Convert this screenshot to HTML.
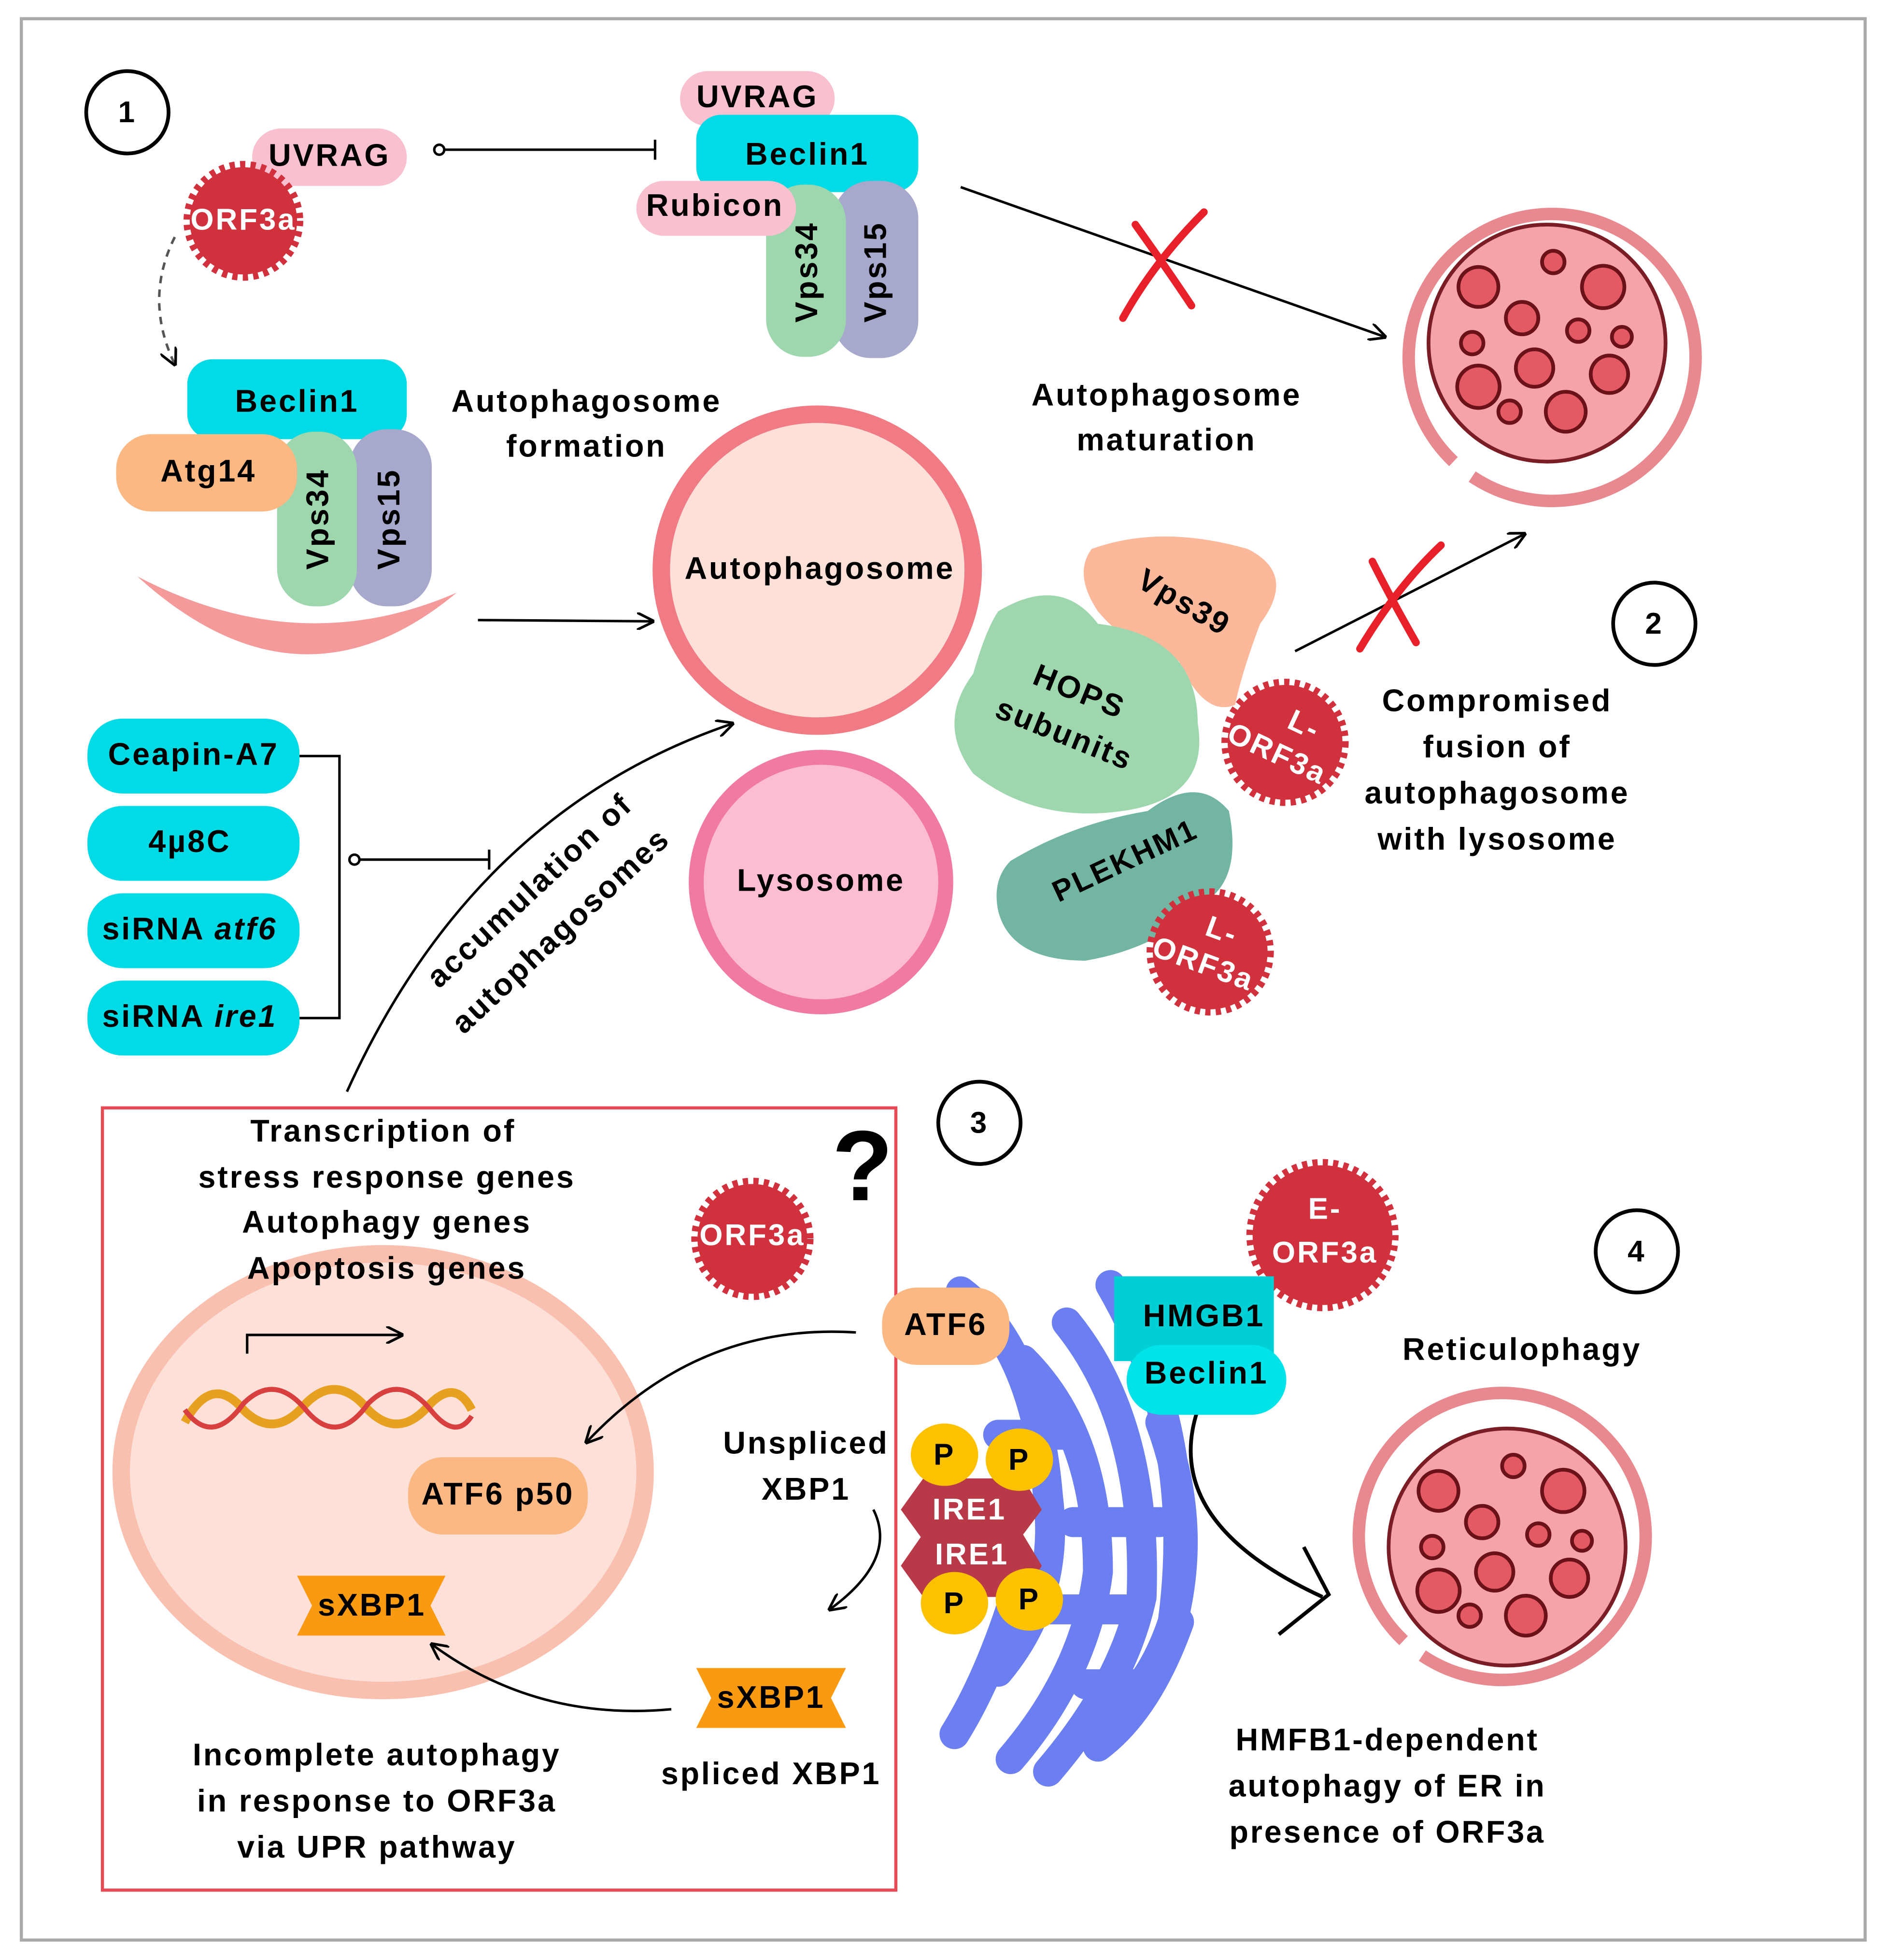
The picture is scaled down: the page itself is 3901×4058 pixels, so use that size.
<!DOCTYPE html>
<html><head><meta charset="utf-8"><style>
html,body{margin:0;padding:0;background:#fff;}
svg{display:block;}
text{font-family:"Liberation Sans",sans-serif;font-weight:bold;letter-spacing:1.5px;}
</style></head><body>
<svg width="3901" height="4058" viewBox="0 0 1510 1571" xmlns="http://www.w3.org/2000/svg">
<defs>
<marker id="ar" viewBox="0 0 10 10" refX="9" refY="5" markerWidth="7" markerHeight="7" orient="auto"><path d="M0,0 L10,5 L0,10" fill="none" stroke="#000" stroke-width="1.5"/></marker>
<g id="lys">
<circle r="95" fill="#f4a3a8" stroke="#7a1d25" stroke-width="3"/>
<g fill="#e45a64" stroke="#6b1219" stroke-width="3">
<circle cx="-55" cy="-45" r="16"/><circle cx="5" cy="-65" r="9"/><circle cx="45" cy="-45" r="17"/>
<circle cx="-60" cy="0" r="9"/><circle cx="-20" cy="-20" r="13"/><circle cx="25" cy="-10" r="9"/><circle cx="60" cy="-5" r="8"/>
<circle cx="-55" cy="35" r="17"/><circle cx="-10" cy="20" r="15"/><circle cx="50" cy="25" r="15"/>
<circle cx="-30" cy="55" r="9"/><circle cx="15" cy="55" r="16"/>
</g></g>
</defs>
<rect width="1510" height="1571" fill="#fff"/>
<rect x="17" y="15" width="1478" height="1540" fill="none" stroke="#aaa" stroke-width="2.5"/>

<g fill="#fff" stroke="#000" stroke-width="3">
<circle cx="102" cy="90" r="33"/><circle cx="1326" cy="500" r="33"/><circle cx="785" cy="900" r="33"/><circle cx="1312" cy="1003" r="33"/></g>
<g font-size="24" text-anchor="middle"><text x="102" y="98">1</text><text x="1326" y="508">2</text><text x="785" y="908">3</text><text x="1312" y="1011">4</text></g>

<rect x="202" y="103" width="124" height="46" rx="23" fill="#f9c0cf"/>
<text x="264" y="133" font-size="25" text-anchor="middle">UVRAG</text>
<line x1="352" y1="120" x2="525" y2="120" stroke="#000" stroke-width="2"/><circle cx="352" cy="120" r="4" fill="#fff" stroke="#000" stroke-width="2"/><line x1="525" y1="112" x2="525" y2="128" stroke="#000" stroke-width="2"/>
<path d="M140,190 Q115,240 140,292" fill="none" stroke="#555" stroke-width="2" stroke-dasharray="6,5" marker-end="url(#ar)"/>

<rect x="545" y="57" width="124" height="44" rx="22" fill="#f9c0cf"/>
<text x="607" y="86" font-size="25" text-anchor="middle">UVRAG</text>
<rect x="558" y="92" width="178" height="62" rx="20" fill="#00dbe5"/>
<text x="647" y="132" font-size="25" text-anchor="middle">Beclin1</text>
<rect x="668" y="145" width="68" height="142" rx="30" fill="#a6a8cc"/>
<rect x="614" y="148" width="64" height="138" rx="30" fill="#9ed6ae"/>
<rect x="510" y="145" width="128" height="44" rx="22" fill="#f9c0cf"/>
<text x="573" y="173" font-size="25" text-anchor="middle">Rubicon</text>
<text transform="translate(655,218) rotate(-90)" font-size="25" text-anchor="middle">Vps34</text>
<text transform="translate(710,218) rotate(-90)" font-size="25" text-anchor="middle">Vps15</text>

<line x1="770" y1="150" x2="1110" y2="270" stroke="#000" stroke-width="2" marker-end="url(#ar)"/>
<path d="M910,180 Q935,215 955,245 M965,170 Q925,210 900,255" stroke="#e8202a" stroke-width="6" fill="none" stroke-linecap="round"/>
<text x="935" y="325" font-size="25" text-anchor="middle">Autophagosome</text>
<text x="935" y="361" font-size="25" text-anchor="middle">maturation</text>

<path d="M1165,370 A115,115 0 1 1 1180,382" fill="none" stroke="#e8888f" stroke-width="10"/>
<g transform="translate(1240,275)"><use href="#lys"/></g>

<rect x="150" y="288" width="176" height="64" rx="20" fill="#00dbe5"/>
<text x="238" y="330" font-size="25" text-anchor="middle">Beclin1</text>
<rect x="280" y="344" width="66" height="142" rx="30" fill="#a6a8cc"/>
<rect x="222" y="346" width="64" height="140" rx="30" fill="#9ed6ae"/>
<rect x="93" y="348" width="145" height="62" rx="28" fill="#fcb882"/>
<text x="167" y="386" font-size="25" text-anchor="middle">Atg14</text>
<text transform="translate(263,416) rotate(-90)" font-size="25" text-anchor="middle">Vps34</text>
<text transform="translate(320,416) rotate(-90)" font-size="25" text-anchor="middle">Vps15</text>
<path d="M110,462 Q240,580 366,475 Q240,530 110,462Z" fill="#f59a9a"/>
<line x1="383" y1="497" x2="523" y2="498" stroke="#000" stroke-width="2" marker-end="url(#ar)"/>
<text x="470" y="330" font-size="25" text-anchor="middle">Autophagosome</text>
<text x="470" y="366" font-size="25" text-anchor="middle">formation</text>

<circle cx="655" cy="457" r="125" fill="#fde0d8" stroke="#f07b84" stroke-width="14"/>
<text x="657" y="464" font-size="25" text-anchor="middle">Autophagosome</text>
<circle cx="658" cy="707" r="100" fill="#fbbcd4" stroke="#f07aa0" stroke-width="12"/>
<text x="658" y="714" font-size="25" text-anchor="middle">Lysosome</text>

<path d="M875,440 Q930,420 1000,440 Q1040,460 1010,500 Q995,540 990,565 Q965,575 945,530 Q905,520 880,490 Q860,460 875,440Z" fill="#fcb89a"/>
<text transform="translate(945,490) rotate(30)" font-size="25" text-anchor="middle">Vps39</text>
<path d="M800,490 Q850,460 880,500 Q960,510 960,580 Q970,640 900,650 Q830,660 780,620 Q750,580 780,540 Q790,505 800,490Z" fill="#9ed6ae"/>
<text transform="translate(862,562) rotate(22)" font-size="25" text-anchor="middle">HOPS</text>
<text transform="translate(850,596) rotate(22)" font-size="25" text-anchor="middle">subunits</text>
<path d="M810,690 Q860,660 920,650 Q960,620 985,650 Q995,700 970,720 Q930,760 870,770 Q810,770 800,730 Q795,705 810,690Z" fill="#72b5a3"/>
<text transform="translate(905,697) rotate(-25)" font-size="24" text-anchor="middle">PLEKHM1</text>
<line x1="1038" y1="522" x2="1222" y2="428" stroke="#000" stroke-width="2" marker-end="url(#ar)"/>
<path d="M1100,450 Q1115,480 1135,515 M1155,437 Q1120,470 1090,520" stroke="#e8202a" stroke-width="6" fill="none" stroke-linecap="round"/>
<g font-size="25" text-anchor="middle"><text x="1200" y="570">Compromised</text><text x="1200" y="607">fusion of</text><text x="1200" y="644">autophagosome</text><text x="1200" y="681">with lysosome</text></g>

<g fill="#d1313d" stroke="#d1313d" stroke-width="10" stroke-dasharray="4,4">
<circle cx="195" cy="177" r="43"/><circle cx="1030" cy="595" r="46"/><circle cx="970" cy="763" r="46"/><circle cx="603" cy="993" r="44"/><circle cx="1060" cy="990" r="56"/></g>
<g fill="#fff" font-size="24" text-anchor="middle">
<text x="195" y="184">ORF3a</text>
<text transform="translate(1028,595) rotate(25)"><tspan x="10" y="-12">L-</tspan><tspan x="0" y="18">ORF3a</tspan></text>
<text transform="translate(968,763) rotate(20)"><tspan x="5" y="-12">L-</tspan><tspan x="0" y="18">ORF3a</tspan></text>
<text x="603" y="998">ORF3a</text>
<text x="1062" y="977">E-</text><text x="1062" y="1012">ORF3a</text></g>

<g fill="#00dbe5"><rect x="70" y="576" width="170" height="60" rx="28"/><rect x="70" y="646" width="170" height="60" rx="28"/><rect x="70" y="716" width="170" height="60" rx="28"/><rect x="70" y="786" width="170" height="60" rx="28"/></g>
<g font-size="25" text-anchor="middle"><text x="155" y="613">Ceapin-A7</text><text x="152" y="683">4µ8C</text><text x="152" y="753">siRNA <tspan font-style="italic">atf6</tspan></text><text x="152" y="823">siRNA <tspan font-style="italic">ire1</tspan></text></g>
<path d="M240,606 H272 V816 H240" fill="none" stroke="#000" stroke-width="2"/>
<line x1="284" y1="689" x2="392" y2="689" stroke="#000" stroke-width="2"/><circle cx="284" cy="689" r="4" fill="#fff" stroke="#000" stroke-width="2"/><line x1="392" y1="681" x2="392" y2="697" stroke="#000" stroke-width="2"/>
<path d="M278,875 Q380,650 587,580" fill="none" stroke="#000" stroke-width="2" marker-end="url(#ar)"/>
<text transform="translate(430,720) rotate(-43)" font-size="25" text-anchor="middle">accumulation of</text>
<text transform="translate(455,752) rotate(-43)" font-size="25" text-anchor="middle">autophagosomes</text>

<rect x="82" y="888" width="636" height="627" fill="none" stroke="#e84a55" stroke-width="2.5"/>
<ellipse cx="307" cy="1180" rx="210" ry="175" fill="#fde0d8" stroke="#f9c0b0" stroke-width="14"/>
<g font-size="25" text-anchor="middle"><text x="307" y="915">Transcription of</text><text x="310" y="952">stress response genes</text><text x="310" y="988">Autophagy genes</text><text x="310" y="1025">Apoptosis genes</text></g>
<text x="692" y="962" font-size="80" text-anchor="middle" font-family="Liberation Sans">?</text>
<path d="M198,1085 V1070 H322" fill="none" stroke="#000" stroke-width="2" marker-end="url(#ar)"/>
<path d="M148,1140 Q170,1100 195,1130 Q220,1155 245,1125 Q270,1100 295,1130 Q320,1155 345,1125 Q365,1105 378,1130" fill="none" stroke="#e8a020" stroke-width="7"/>
<path d="M148,1130 Q170,1160 195,1125 Q220,1100 245,1130 Q270,1160 295,1125 Q320,1100 345,1130 Q365,1155 378,1135" fill="none" stroke="#d84040" stroke-width="4"/>
<rect x="327" y="1168" width="144" height="62" rx="28" fill="#fcb882"/>
<text x="399" y="1206" font-size="25" text-anchor="middle">ATF6 p50</text>
<path d="M238,1263 H357 L345,1287 L357,1311 H238 L250,1287Z" fill="#f99a10"/>
<text x="298" y="1295" font-size="25" text-anchor="middle">sXBP1</text>
<path d="M558,1337 H678 L666,1361 L678,1385 H558 L570,1361Z" fill="#f99a10"/>
<text x="618" y="1369" font-size="25" text-anchor="middle">sXBP1</text>
<path d="M538,1370 Q430,1380 346,1318" fill="none" stroke="#000" stroke-width="2" marker-end="url(#ar)"/>
<path d="M686,1068 Q560,1060 470,1156" fill="none" stroke="#000" stroke-width="2" marker-end="url(#ar)"/>
<path d="M700,1210 Q720,1250 665,1290" fill="none" stroke="#000" stroke-width="2" marker-end="url(#ar)"/>
<g font-size="25" text-anchor="middle"><text x="646" y="1165">Unspliced</text><text x="646" y="1202">XBP1</text><text x="618" y="1430">spliced XBP1</text>
<text x="302" y="1415">Incomplete autophagy</text><text x="302" y="1452">in response to ORF3a</text><text x="302" y="1489">via UPR pathway</text></g>

<g fill="none" stroke="#6b7ff0" stroke-linecap="round" stroke-width="24">
<path d="M770,1035 Q830,1080 840,1200 Q850,1280 800,1340"/>
<path d="M820,1090 Q880,1150 880,1260 Q870,1340 810,1410"/>
<path d="M855,1060 Q920,1140 915,1280 Q900,1350 840,1420"/>
<path d="M890,1030 Q960,1150 940,1300 Q920,1360 880,1380"/>
<path d="M930,1140 Q960,1220 940,1300"/>
<path d="M810,1290 Q790,1350 765,1390"/>
<path d="M945,1300 Q920,1370 880,1400"/>
<path d="M800,1150 H860 M860,1220 H930 M840,1290 H910 M870,1350 H920"/>
</g>
<path d="M960,1130 Q930,1220 1060,1280" fill="none" stroke="#000" stroke-width="3"/>
<path d="M1045,1240 L1065,1278 L1025,1310" fill="none" stroke="#000" stroke-width="3"/>

<rect x="707" y="1032" width="102" height="62" rx="28" fill="#fcb882"/>
<text x="758" y="1070" font-size="25" text-anchor="middle">ATF6</text>
<path d="M740,1185 H820 L835,1210 L820,1230 L835,1255 L820,1280 H740 L722,1255 L738,1232 L722,1210Z" fill="#b83a48"/>
<g fill="#fff" font-size="24" text-anchor="middle"><text x="777" y="1218">IRE1</text><text x="779" y="1254">IRE1</text></g>
<g fill="#fcc200"><ellipse cx="757" cy="1166" rx="27" ry="25"/><ellipse cx="817" cy="1170" rx="27" ry="25"/><ellipse cx="765" cy="1285" rx="27" ry="25"/><ellipse cx="825" cy="1282" rx="27" ry="25"/></g>
<g font-size="24" text-anchor="middle"><text x="757" y="1174">P</text><text x="817" y="1178">P</text><text x="765" y="1293">P</text><text x="825" y="1290">P</text></g>
<rect x="893" y="1023" width="128" height="68" fill="#00cfd6"/>
<text x="965" y="1063" font-size="25" text-anchor="middle">HMGB1</text>
<rect x="903" y="1078" width="128" height="56" rx="28" fill="#00e3e8"/>
<text x="967" y="1109" font-size="25" text-anchor="middle">Beclin1</text>
<text x="1220" y="1090" font-size="25" text-anchor="middle">Reticulophagy</text>

<path d="M1125,1315 A115,115 0 1 1 1140,1327" fill="none" stroke="#e8888f" stroke-width="10"/>
<g transform="translate(1208,1240)"><use href="#lys"/></g>
<g font-size="25" text-anchor="middle"><text x="1112" y="1403">HMFB1-dependent</text><text x="1112" y="1440">autophagy of ER in</text><text x="1112" y="1477">presence of ORF3a</text></g>
</svg>
</body></html>
